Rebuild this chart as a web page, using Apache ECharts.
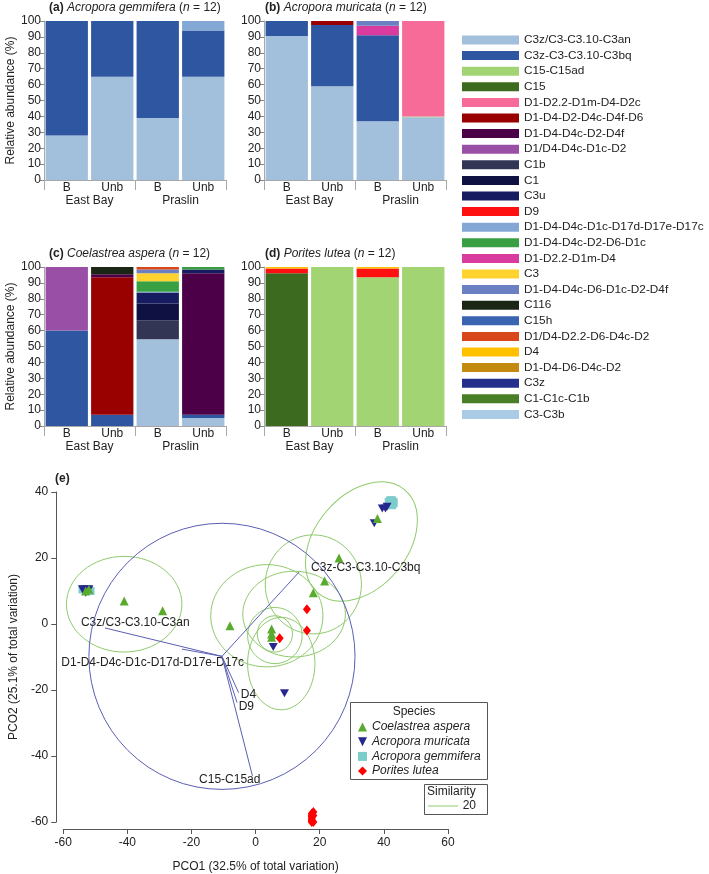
<!DOCTYPE html>
<html>
<head>
<meta charset="utf-8">
<script src="https://cdn.jsdelivr.net/npm/echarts@6/dist/echarts.min.js"></script>
<style>
html, body { margin: 0; padding: 0; background: #fff; }
#main { width: 709px; height: 874px; }
</style>
</head>
<body>
<div id="main"></div>
<script>
var FONT = 'Liberation Sans, Arial, sans-serif';

// ---- stacked bars (a)-(d) ----
var SITES = ['B', 'Unb', 'B', 'Unb'];
var REGIONS = ['East Bay', 'Praslin'];

var TYPES = ['C3z/C3-C3.10-C3an', 'C3z-C3-C3.10-C3bq', 'C15-C15ad', 'C15', 'D1-D2.2-D1m-D4-D2c',
  'D1-D4-D2-D4c-D4f-D6', 'D1-D4-D4c-D2-D4f', 'D1/D4-D4c-D1c-D2', 'C1b', 'C1', 'C3u', 'D9',
  'D1-D4-D4c-D1c-D17d-D17e-D17c', 'D1-D4-D4c-D2-D6-D1c', 'D1-D2.2-D1m-D4', 'C3',
  'D1-D4-D4c-D6-D1c-D2-D4f', 'C116', 'C15h', 'D1/D4-D2.2-D6-D4c-D2', 'D4', 'D1-D4-D6-D4c-D2',
  'C3z', 'C1-C1c-C1b', 'C3-C3b'];
var TYPE_COLORS = ['#a2bfdb', '#2f56a0', '#a3d474', '#3c6a1e', '#f76b98',
  '#990000', '#4b0048', '#9a4fa6', '#323654', '#0f1142', '#171c60', '#ff1010',
  '#84a8d5', '#38a043', '#d93b9f', '#ffd22e',
  '#6b80c3', '#1c2614', '#3a63b0', '#d8461c', '#ffc000', '#c48a10',
  '#242e8d', '#4a7e24', '#a9cbe6'];

// relative abundance (%) for [East Bay B, East Bay Unb, Praslin B, Praslin Unb]
var GEMMIFERA = {
  'C3z/C3-C3.10-C3an': [28, 65, 39, 65],
  'C3z-C3-C3.10-C3bq': [72, 35, 61, 29],
  'D1-D4-D4c-D1c-D17d-D17e-D17c': [0, 0, 0, 6]
};
var MURICATA = {
  'C3z/C3-C3.10-C3an': [90.5, 59, 37, 39.5],
  'C3z-C3-C3.10-C3bq': [9.5, 38.5, 54, 0],
  'C15-C15ad': [0, 0, 0, 0.5],
  'D1-D2.2-D1m-D4-D2c': [0, 0, 0, 60],
  'D1-D4-D2-D4c-D4f-D6': [0, 2.5, 0, 0],
  'D1-D2.2-D1m-D4': [0, 0, 6, 0],
  'D1-D4-D4c-D6-D1c-D2-D4f': [0, 0, 3, 0]
};
var ASPERA = {
  'C3z/C3-C3.10-C3an': [0, 0, 54.5, 5],
  'C3z-C3-C3.10-C3bq': [60, 7, 0, 2],
  'D1-D4-D2-D4c-D4f-D6': [0, 86.5, 0, 0],
  'D1-D4-D4c-D2-D4f': [0, 2, 0, 89],
  'D1/D4-D4c-D1c-D2': [40, 0, 0, 0],
  'C1b': [0, 0, 12, 0],
  'C1': [0, 0, 10.5, 0],
  'C3u': [0, 0, 7, 2.5],
  'D1-D4-D4c-D1c-D17d-D17e-D17c': [0, 0, 0.5, 0],
  'D1-D4-D4c-D2-D6-D1c': [0, 0, 6.5, 1.5],
  'C3': [0, 0, 5, 0],
  'D1-D4-D4c-D6-D1c-D2-D4f': [0, 0, 2.5, 0],
  'C116': [0, 4.5, 0, 0],
  'D1/D4-D2.2-D6-D4c-D2': [0, 0, 1.5, 0]
};
var LUTEA = {
  'C15-C15ad': [0, 100, 93.5, 100],
  'C15': [96, 0, 0, 0],
  'D9': [3, 0, 5.5, 0],
  'D4': [1, 0, 1, 0]
};

var PANELS = [
  { tag: '(a)', species: 'Acropora gemmifera', values: GEMMIFERA, left: 44, top: 21 },
  { tag: '(b)', species: 'Acropora muricata', values: MURICATA, left: 264, top: 21 },
  { tag: '(c)', species: 'Coelastrea aspera', values: ASPERA, left: 44, top: 267 },
  { tag: '(d)', species: 'Porites lutea', values: LUTEA, left: 264, top: 267 }
];
var BAR_W = 182, BAR_H = 159;

// ---- PCO (e) ----
var SPECIES = ['Coelastrea aspera', 'Acropora muricata', 'Acropora gemmifera', 'Porites lutea'];
var ASPERA_PCO = [[-53, 10], [-52, 10.5], [-41, 7], [-29, 4], [-8, -0.5], [5, -1.5], [5, -3], [5, -4],
  [18, 9.5], [21.5, 13], [26, 20], [38, 32]];
var MURICATA_PCO = [[-54, 10.5], [-53.5, 10], [-53, 10.5], [-52.5, 10], [-52, 10.5], [-53, 9.5],
  [5.5, -7], [9, -21], [37, 30.5], [39.5, 35], [40.5, 35], [41, 35.5]];
var GEMMIFERA_PCO = [[-54, 10.5], [-53, 10], [-52.5, 10.5], [-51.5, 10], [42, 37], [42.5, 37.5],
  [43, 37], [42, 36.5], [42.5, 36], [43, 36.5], [41.5, 37], [42, 37.5]];
var LUTEA_PCO = [[16, 4.5], [16, -2], [7.5, -4.3], [17.5, -57.5], [17.5, -58.5], [18, -57],
  [17.5, -59.5], [17.5, -60], [18, -58], [17.5, -59], [18, -60], [17.5, -58]];

// similarity 20 contours: [cx, cy, rx, ry, rotation deg]
var SIM_ELLIPSES = [
  [-41, 6, 18, 14.5, 0],
  [3.5, 2.5, 17.5, 15.5, 0],
  [33, 25, 21, 14, 50],
  [18, 12, 15, 15, 0],
  [12, 3, 16, 13, 0],
  [6, -3, 5.5, 5.5, 0],
  [6, -3.5, 8.5, 8.5, 0],
  [8, -12, 10.5, 14, 0]
];

// vector overlay
var VEC_ORIGIN = [-10.5, -9.8];
var VEC_CIRCLE_R = 41.5;
var VEC_NAMES = ['C3z/C3-C3.10-C3an', 'D1-D4-D4c-D1c-D17d-D17e-D17c', 'C3z-C3-C3.10-C3bq', 'D4', 'D9', 'C15-C15ad'];
var VEC_ENDS = [[-47, -1.2], [-23, -7.6], [13.6, 15.8], [-5.3, -20.8], [-5.8, -23.8], [-1, -46]];
var VEC_LABELS = [[-54.5, 0.3, 'left'], [-60.6, -11.8, 'left'], [17.3, 17.2, 'left'],
  [-4.6, -21.5, 'left'], [-5.3, -25, 'left'], [1.5, -47.3, 'right']];

var PCO_LEFT = 52, PCO_TOP = 492, PCO_W = 396, PCO_H = 330;

var chart = echarts.init(document.getElementById('main'));

var grids = [], xAxes = [], yAxes = [], series = [], graphics = [];
var axisGray = '#a8a8a8';

PANELS.forEach(function (pan, p) {
  grids.push({ left: pan.left, top: pan.top, width: BAR_W, height: BAR_H });
  xAxes.push({
    type: 'category', gridIndex: p, data: SITES, position: 'bottom',
    axisLine: { show: false }, axisTick: { show: false },
    axisLabel: { margin: 2, fontSize: 12, color: '#222', fontFamily: FONT }
  });
  xAxes.push({
    type: 'category', gridIndex: p, data: REGIONS, position: 'bottom',
    axisLine: { lineStyle: { color: axisGray } },
    axisTick: { show: true, length: 10, lineStyle: { color: axisGray } },
    axisLabel: { margin: 15, fontSize: 12, color: '#222', fontFamily: FONT }
  });
  yAxes.push({
    type: 'value', gridIndex: p, min: 0, max: 100, interval: 10,
    name: p % 2 === 0 ? 'Relative abundance (%)' : '',
    nameLocation: 'middle', nameGap: 27,
    nameTextStyle: { fontSize: 12, color: '#222', fontFamily: FONT },
    axisLine: { show: true, lineStyle: { color: axisGray } },
    axisTick: { show: true, length: 4, lineStyle: { color: '#888' } },
    axisLabel: { margin: 3, fontSize: 12, color: '#222', fontFamily: FONT },
    splitLine: { show: false }
  });
  TYPES.forEach(function (t, i) {
    var v = pan.values[t];
    series.push({
      type: 'bar', name: t, xAxisIndex: 2 * p, yAxisIndex: p, stack: 'st' + p,
      barCategoryGap: '7%', itemStyle: { color: TYPE_COLORS[i] }, silent: true,
      data: SITES.map(function (s, k) { return v && v[k] ? v[k] : null; })
    });
  });
  graphics.push({
    type: 'text', left: pan.left + (p % 2 === 0 ? 5 : 1), top: pan.top - 19,
    style: {
      text: '{b|' + pan.tag + '} {i|' + pan.species + '} ({i|n} = 12)',
      font: '12px ' + FONT, fill: '#222',
      rich: { b: { fontWeight: 'bold', fontSize: 12, fontFamily: FONT }, i: { fontStyle: 'italic', fontSize: 12, fontFamily: FONT } }
    }
  });
});

// PCO grid
grids.push({ left: PCO_LEFT, top: PCO_TOP, width: PCO_W, height: PCO_H });
xAxes.push({
  type: 'value', gridIndex: 4, min: -60, max: 60, interval: 20, offset: 7,
  name: 'PCO1 (32.5% of total variation)', nameLocation: 'middle', nameGap: 32,
  nameTextStyle: { fontSize: 12, color: '#222', fontFamily: FONT },
  axisLine: { onZero: false, lineStyle: { color: '#555' } },
  axisTick: { length: 5, lineStyle: { color: '#555' } },
  axisLabel: { margin: 8, fontSize: 12, color: '#222', fontFamily: FONT },
  splitLine: { show: false }
});
yAxes.push({
  type: 'value', gridIndex: 4, min: -60, max: 40, interval: 20, offset: 7,
  name: 'PCO2 (25.1% of total variation)', nameLocation: 'middle', nameGap: 27,
  nameTextStyle: { fontSize: 12, color: '#222', fontFamily: FONT },
  axisLine: { show: true, onZero: false, lineStyle: { color: '#555' } },
  axisTick: { show: true, length: 5, lineStyle: { color: '#555' } },
  axisLabel: { margin: 8, fontSize: 12, color: '#222', fontFamily: FONT },
  splitLine: { show: false }
});

var PCO_X = 8, PCO_Y = 4;

series.push({
  type: 'custom', name: 'similarity', xAxisIndex: PCO_X, yAxisIndex: PCO_Y, silent: true, z: 1,
  data: SIM_ELLIPSES,
  renderItem: function (params, api) {
    var c = api.coord([api.value(0), api.value(1)]);
    var s = api.size([api.value(2), api.value(3)]);
    return {
      type: 'ellipse', x: c[0], y: c[1], rotation: api.value(4) * Math.PI / 180,
      shape: { cx: 0, cy: 0, rx: s[0], ry: s[1] },
      style: { fill: 'none', stroke: '#8fca6c', lineWidth: 1 }
    };
  }
});

series.push({
  type: 'custom', name: 'vectors', xAxisIndex: PCO_X, yAxisIndex: PCO_Y, silent: true, z: 2,
  data: VEC_NAMES.map(function (n, i) {
    return [VEC_ENDS[i][0], VEC_ENDS[i][1], VEC_LABELS[i][0], VEC_LABELS[i][1], i];
  }),
  renderItem: function (params, api) {
    var o = api.coord(VEC_ORIGIN);
    var e = api.coord([api.value(0), api.value(1)]);
    var l = api.coord([api.value(2), api.value(3)]);
    var i = api.value(4);
    var children = [
      { type: 'line', shape: { x1: o[0], y1: o[1], x2: e[0], y2: e[1] }, style: { stroke: '#5b5fb5', lineWidth: 1 } },
      { type: 'text', x: l[0], y: l[1], style: { text: VEC_NAMES[i], font: '12px ' + FONT, fill: '#222', align: VEC_LABELS[i][2], verticalAlign: 'middle' } }
    ];
    if (params.dataIndex === 0) {
      var r = api.size([VEC_CIRCLE_R, VEC_CIRCLE_R]);
      children.push({ type: 'circle', shape: { cx: o[0], cy: o[1], r: r[0] }, style: { fill: 'none', stroke: '#5b5fb5', lineWidth: 1 } });
    }
    return { type: 'group', children: children };
  }
});

// drawing order: gemmifera below the others
var SP_STYLE = [
  { data: ASPERA_PCO, symbol: 'triangle', size: 9, color: '#5aaa2e', z: 7 },
  { data: MURICATA_PCO, symbol: 'path://M0,0L10,0L5,10Z', size: [9, 8], color: '#27288e', z: 6 },
  { data: GEMMIFERA_PCO, symbol: 'rect', size: 8, color: '#7ccccc', z: 5 },
  { data: LUTEA_PCO, symbol: 'diamond', size: [8, 10], color: '#ff0000', z: 8 }
];
SPECIES.forEach(function (n, i) {
  series.push({
    type: 'scatter', name: n, xAxisIndex: PCO_X, yAxisIndex: PCO_Y, z: SP_STYLE[i].z, clip: false,
    symbol: SP_STYLE[i].symbol, symbolSize: SP_STYLE[i].size,
    itemStyle: { color: SP_STYLE[i].color, opacity: 1 },
    data: SP_STYLE[i].data
  });
});

// panel (e) tag, legend boxes
graphics.push({ type: 'text', left: 55, top: 473, style: { text: '(e)', font: 'bold 12px ' + FONT, fill: '#222' } });
graphics.push({ type: 'rect', left: 350, top: 702, shape: { width: 137, height: 77 }, style: { fill: '#fff', stroke: '#555', lineWidth: 1 }, z: 3 });
graphics.push({ type: 'text', x: 414, y: 712, style: { text: 'Species', font: '12px ' + FONT, fill: '#222', align: 'center', verticalAlign: 'middle' }, z: 4 });
graphics.push({ type: 'rect', left: 424, top: 784, shape: { width: 63, height: 30 }, style: { fill: '#fff', stroke: '#555', lineWidth: 1 }, z: 3 });
graphics.push({ type: 'text', x: 427, y: 792, style: { text: 'Similarity', font: '12px ' + FONT, fill: '#222', align: 'left', verticalAlign: 'middle' }, z: 4 });
graphics.push({ type: 'line', shape: { x1: 428, y1: 806, x2: 458, y2: 806 }, style: { stroke: '#8fca6c', lineWidth: 1 }, z: 4 });
graphics.push({ type: 'text', x: 476, y: 806, style: { text: '20', font: '12px ' + FONT, fill: '#222', align: 'right', verticalAlign: 'middle' }, z: 4 });

chart.setOption({
  backgroundColor: '#fff',
  animation: false,
  textStyle: { fontFamily: FONT },
  grid: grids,
  xAxis: xAxes,
  yAxis: yAxes,
  legend: [{
    data: TYPES, orient: 'vertical', left: 462, top: 34, padding: 0,
    itemWidth: 57, itemHeight: 9, itemGap: 3.6,
    icon: 'rect', selectedMode: false,
    textStyle: { fontSize: 11.8, color: '#222', fontFamily: FONT, lineHeight: 12 }
  }, {
    data: SPECIES, orient: 'vertical', left: 358, top: 721, padding: 0,
    itemWidth: 9, itemHeight: 9, itemGap: 2.7,
    selectedMode: false, z: 5,
    textStyle: { fontSize: 12, color: '#222', fontFamily: FONT, fontStyle: 'italic', lineHeight: 12 }
  }],
  graphic: graphics,
  series: series
});
</script>
</body>
</html>
